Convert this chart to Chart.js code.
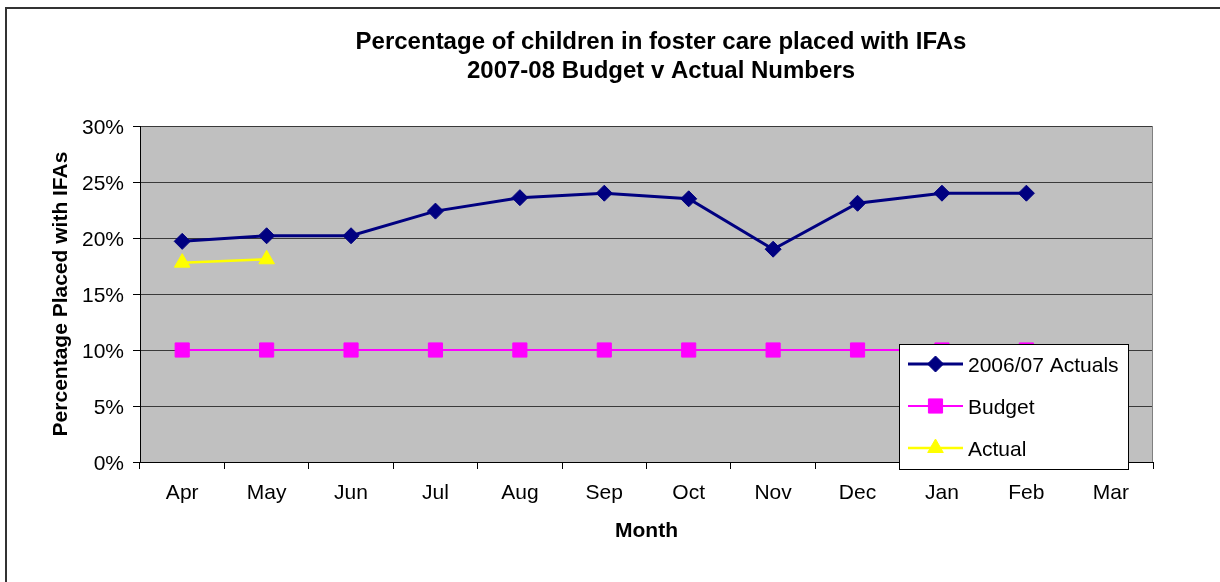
<!DOCTYPE html>
<html>
<head>
<meta charset="utf-8">
<title>IFA placements</title>
<script src="https://cdn.jsdelivr.net/npm/chart.js@4.4.0/dist/chart.umd.min.js"></script>
<style>
  html, body { margin: 0; padding: 0; background: #fff; overflow: hidden; }
  #frame { position: absolute; left: 5px; top: 7px; border: 2px solid #333; width: 1306px; height: 600px; }
  #chart { display: block; }
</style>
</head>
<body>
<div id="frame"><canvas id="chart" width="1306" height="600"></canvas></div>
<script>
// data
const months = ['Apr', 'May', 'Jun', 'Jul', 'Aug', 'Sep', 'Oct', 'Nov', 'Dec', 'Jan', 'Feb', 'Mar'];
const actuals0607 = [19.7, 20.2, 20.2, 22.4, 23.6, 24.0, 23.5, 19.0, 23.1, 24.0, 24.0, null];
const budget = [10, 10, 10, 10, 10, 10, 10, 10, 10, 10, 10, null];
const actual = [17.8, 18.1, null, null, null, null, null, null, null, null, null, null];
const titleLines = ['Percentage of children in foster care placed with IFAs', '2007-08 Budget v Actual Numbers'];

const FONT = '"Liberation Sans", Arial, sans-serif';
Chart.defaults.font.family = FONT;
Chart.defaults.color = '#000';

// grey plot area + right edge
const plotBg = {
  id: 'plotBg',
  beforeDraw(chart) {
    const {ctx, chartArea: a} = chart;
    ctx.save();
    ctx.fillStyle = '#c0c0c0';
    ctx.fillRect(a.left, a.top, a.right - a.left, a.bottom - a.top);
    ctx.restore();
  },
  beforeDatasetsDraw(chart) {
    const {ctx, chartArea: a} = chart;
    ctx.save();
    ctx.strokeStyle = '#808080';
    ctx.lineWidth = 1;
    ctx.beginPath();
    ctx.moveTo(a.right - 0.5, a.top);
    ctx.lineTo(a.right - 0.5, a.bottom);
    ctx.stroke();
    ctx.restore();
  }
};

// two line heading, centred over the whole frame
const heading = {
  id: 'heading',
  afterDraw(chart) {
    const ctx = chart.ctx;
    ctx.save();
    ctx.font = 'bold 24px ' + FONT;
    ctx.fillStyle = '#000';
    ctx.textAlign = 'center';
    ctx.textBaseline = 'middle';
    titleLines.forEach((t, i) => ctx.fillText(t, 654, 33 + i * 29));
    ctx.restore();
  }
};

// legend box sitting on top of the plot
const boxLegend = {
  id: 'boxLegend',
  afterDraw(chart) {
    const ctx = chart.ctx;
    const x = 892, y = 335, w = 229, h = 125;
    ctx.save();
    ctx.fillStyle = '#fff';
    ctx.fillRect(x, y, w, h);
    ctx.strokeStyle = '#000';
    ctx.lineWidth = 1;
    ctx.strokeRect(x + 0.5, y + 0.5, w, h);
    chart.data.datasets.forEach((ds, i) => {
      const cy = 355 + i * 42;
      ctx.strokeStyle = ds.borderColor;
      ctx.lineWidth = ds.borderWidth;
      ctx.beginPath();
      ctx.moveTo(901, cy);
      ctx.lineTo(956, cy);
      ctx.stroke();
      ctx.fillStyle = ds.borderColor;
      ctx.lineWidth = 1;
      Chart.helpers.drawPoint(ctx, {pointStyle: ds.pointStyle, radius: ds.pointRadius, rotation: 0, borderWidth: 1}, 928.5, cy);
      ctx.fillStyle = '#000';
      ctx.font = '21px ' + FONT;
      ctx.textAlign = 'left';
      ctx.textBaseline = 'middle';
      ctx.fillText(ds.label, 961, cy + 2);
    });
    ctx.restore();
  }
};

new Chart(document.getElementById('chart'), {
  type: 'line',
  data: {
    labels: months,
    datasets: [
      {label: '2006/07 Actuals', data: actuals0607, borderColor: '#000080', backgroundColor: '#000080',
       borderWidth: 3, pointStyle: 'rectRot', pointRadius: 8, pointBorderWidth: 1},
      {label: 'Budget', data: budget, borderColor: '#ff00ff', backgroundColor: '#ff00ff',
       borderWidth: 2, pointStyle: 'rect', pointRadius: 10, pointBorderWidth: 1},
      {label: 'Actual', data: actual, borderColor: '#ffff00', backgroundColor: '#ffff00',
       borderWidth: 2.5, pointStyle: 'triangle', pointRadius: 9, pointBorderWidth: 1}
    ]
  },
  options: {
    responsive: false,
    devicePixelRatio: 1,
    animation: false,
    spanGaps: false,
    layout: {padding: {top: 117, right: 160, bottom: 47, left: 0}},
    plugins: {legend: {display: false}, title: {display: false}, tooltip: {enabled: false}},
    scales: {
      x: {
        offset: true,
        ticks: {font: {size: 21}, padding: 12, color: '#000'},
        grid: {offset: true, drawOnChartArea: false, tickColor: '#000', tickLength: 7},
        border: {color: '#000', width: 1},
        title: {display: true, text: 'Month', font: {size: 21, weight: 'bold'}, color: '#000', padding: {top: 0, bottom: 18}},
        afterFit(s) { s.height = 100; }
      },
      y: {
        min: 0, max: 30,
        ticks: {stepSize: 5, callback: v => v + '%', font: {size: 21}, padding: 9, labelOffset: 2, color: '#000'},
        grid: {color: '#3a3a3a', lineWidth: 1, tickColor: '#000', tickLength: 7},
        border: {color: '#000', width: 1},
        title: {display: true, text: 'Percentage Placed with IFAs', font: {size: 21, weight: 'bold'}, color: '#000', padding: {top: 42, bottom: 0}},
        afterFit(s) { s.width = 133; }
      }
    }
  },
  plugins: [plotBg, heading, boxLegend]
});
</script>
</body>
</html>
